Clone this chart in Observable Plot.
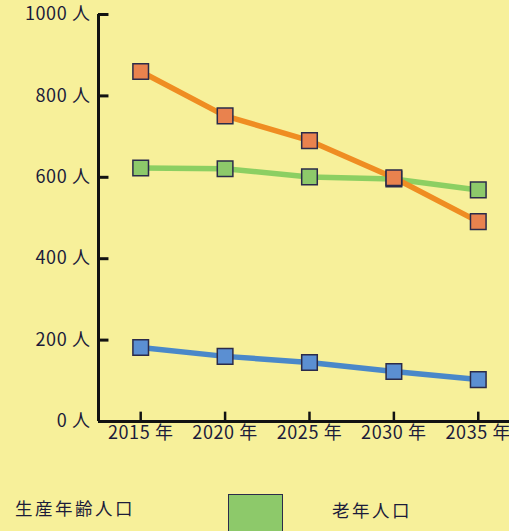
<!DOCTYPE html>
<html>
<head>
<meta charset="utf-8">
<script src="https://cdn.jsdelivr.net/npm/d3@7"></script>
<script src="https://cdn.jsdelivr.net/npm/@observablehq/plot@0.6"></script>
<style>
  html, body { margin: 0; padding: 0; background: #f7f09a; }
  #wrap { position: relative; width: 509px; height: 531px; overflow: hidden; background: #f7f09a;
          font-family: "Noto Sans CJK JP", "Noto Sans", sans-serif; color: #1c1c3a; }
  #chart svg { display: block; }
  #chart svg text { letter-spacing: 0.6px; }
  .lg { position: absolute; font-size: 17.5px; letter-spacing: 2.5px; line-height: 1; white-space: nowrap; }
  .sw { position: absolute; box-sizing: border-box; border: 1.5px solid #2b2b4a; }
</style>
</head>
<body>
<div id="wrap">
  <div id="chart"></div>
  <div class="lg" style="left:15px; top:499px;">生産年齢人口</div>
  <div class="sw" style="left:228px; top:494px; width:55px; height:45px; background:#8dc96a;"></div>
  <div class="lg" style="left:332px; top:501px;">老年人口</div>
</div>
<script>
const years = [2015, 2020, 2025, 2030, 2035];
const workingAge = [860, 751, 690, 599, 491];   // orange
const elderly = [623, 621, 601, 596, 569];      // green
const youth = [182, 160, 145, 123, 103];        // blue
const yTicks = [0, 200, 400, 600, 800, 1000];
const yTickLabels = ["0 人", "200 人", "400 人", "600 人", "800 人", "1000 人"];
const xTickLabels = ["2015 年", "2020 年", "2025 年", "2030 年", "2035 年"];

const seriesNames = ["年少人口", "老年人口", "生産年齢人口"];
const seriesValues = [youth, elderly, workingAge];
const lineColors = ["#4a88c9", "#8ccf62", "#ef8d22"];
const markColors = ["#5b8fd2", "#8dc96a", "#e9824e"];

const data = [];
seriesNames.forEach((s, i) => years.forEach((y, j) => data.push({series: s, year: y, value: seriesValues[i][j]})));

const xMin = 2012.5, xMax = 2036.85;
const ink = "#121212";
const textCol = "#1c1c3a";

const chart = Plot.plot({
  width: 509,
  height: 460,
  marginTop: 14,
  marginBottom: 39,
  marginLeft: 98,
  marginRight: 0,
  style: {background: "transparent", fontFamily: '"Noto Sans CJK JP", "Noto Sans", sans-serif', color: textCol, overflow: "visible"},
  x: {type: "linear", domain: [xMin, xMax], label: null},
  y: {domain: [0, 1000], label: null},
  color: {domain: seriesNames, range: lineColors},
  marks: [
    Plot.axisY(yTicks, {tickSize: 0, tickPadding: 8, fontSize: 18, fill: textCol, label: null,
      tickFormat: (d) => yTickLabels[yTicks.indexOf(d)]}),
    Plot.axisX(years, {tickSize: 0, tickPadding: 5, fontSize: 18, fill: textCol, label: null,
      tickFormat: (d) => xTickLabels[years.indexOf(d)]}),
    Plot.ruleY(yTicks, {x1: xMin, x2: xMin + 0.62, stroke: ink, strokeWidth: 3}),
    Plot.ruleX(years, {y1: 0, y2: 23, stroke: ink, strokeWidth: 2.5}),
    Plot.ruleX([xMin], {y1: 0, y2: 1000, stroke: ink, strokeWidth: 3}),
    Plot.ruleY([0], {x1: xMin, x2: xMax, stroke: ink, strokeWidth: 3}),
    Plot.line(data, {x: "year", y: "value", z: "series", stroke: "series", strokeWidth: 5.5, strokeLinejoin: "round"}),
    Plot.dot(data, {x: "year", y: "value", symbol: "square", r: 8.8,
      fill: (d) => markColors[seriesNames.indexOf(d.series)], stroke: "#2b2b4a", strokeWidth: 1.5})
  ]
});
document.getElementById("chart").appendChild(chart);
</script>
</body>
</html>
